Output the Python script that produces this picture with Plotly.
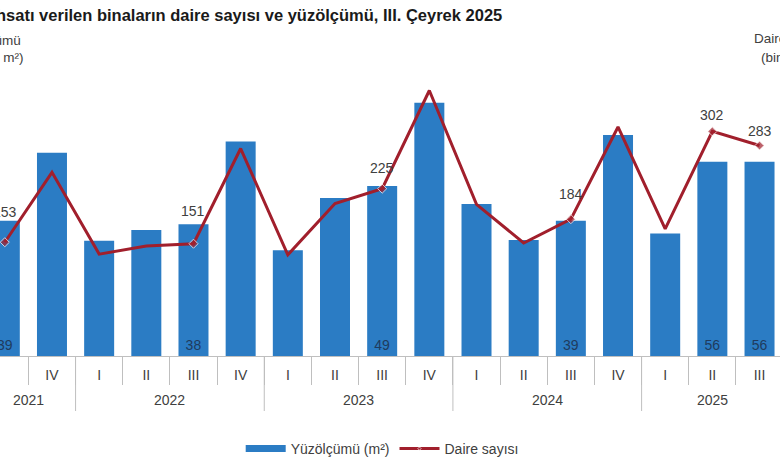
import plotly.graph_objects as go

# veriler (çeyrekler, 2021 III - 2025 III)
years = ["2021"] * 2 + ["2022"] * 4 + ["2023"] * 4 + ["2024"] * 4 + ["2025"] * 3
quarters = ["III", "IV", "I", "II", "III", "IV", "I", "II", "III", "IV",
            "I", "II", "III", "IV", "I", "II", "III"]
area_mln_m2 = [39, 58.6, 33.2, 36.3, 38, 61.8, 30.5, 45.5, 49, 73,
               43.8, 33.4, 39, 63.7, 35.3, 56, 56]
dwellings_thousand = [153, 247, 137, 148, 151, 279, 136, 205, 225, 357,
                      204, 152, 184, 308, 171, 302, 283]
area_labels = ["39", "", "", "", "38", "", "", "", "49", "", "", "", "39", "", "", "56", "56"]
dwelling_labels = ["153", "", "", "", "151", "", "", "", "225", "", "", "", "184", "", "", "302", "283"]

W, H = 780, 470
BAR_BLUE = "#2b7cc4"
LINE_RED = "#a11f2c"
TXT = "#404040"
GRID = "#bfbfbf"
FONT = "Arial, Liberation Sans, sans-serif"
BASE_Y = 356  # eksen çizgisi (piksel)

# etiket kaydırmaları (piksel)
label_shift = {0: 30, 4: 33, 8: 21, 12: 25, 15: 16, 16: 15}


def px(x):
    return x / W


def py(y):
    return 1 - y / H


idx = list(range(len(quarters)))

fig = go.Figure()

fig.add_trace(
    go.Bar(
        x=idx,
        y=area_mln_m2,
        marker=dict(color=BAR_BLUE, line=dict(width=0)),
        width=0.636,
        text=area_labels,
        textposition="inside",
        insidetextanchor="start",
        textangle=0,
        textfont=dict(family=FONT, size=14, color="#1f3b5e"),
        showlegend=False,
        hoverinfo="skip",
    )
)

# lejant için çubuk işareti (geniş dikdörtgen görünümü)
fig.add_trace(
    go.Scatter(
        x=[None],
        y=[None],
        mode="lines",
        line=dict(color=BAR_BLUE, width=7),
        name="Yüzölçümü (m²)",
        legendrank=1,
    )
)

fig.add_trace(
    go.Scatter(
        x=idx,
        y=dwellings_thousand,
        yaxis="y2",
        mode="lines+markers",
        line=dict(color=LINE_RED, width=3),
        marker=dict(symbol="diamond", color=LINE_RED,
                    size=[7 if t else 0 for t in dwelling_labels]),
        name="Daire sayısı",
        legendrank=2,
        hoverinfo="skip",
    )
)

annotations = []
for i, t in enumerate(dwelling_labels):
    if t:
        annotations.append(dict(
            x=i, y=dwellings_thousand[i], xref="x", yref="y2",
            text=t, showarrow=False, yshift=label_shift.get(i, 15),
            font=dict(family=FONT, size=14, color=TXT),
        ))

# yıl etiketleri ve ayraçları
year_names = sorted(set(years))
shapes = []
for yname in year_names:
    pos = [i for i, v in enumerate(years) if v == yname]
    annotations.append(dict(
        x=sum(pos) / len(pos), y=py(400), xref="x", yref="paper",
        text=yname, showarrow=False, yanchor="middle",
        font=dict(family=FONT, size=14, color=TXT),
    ))
    if pos[0] > 0:
        shapes.append(dict(
            type="line", xref="x", yref="paper",
            x0=pos[0] - 0.5, x1=pos[0] - 0.5, y0=py(BASE_Y), y1=py(411),
            line=dict(color=GRID, width=1),
        ))

annotations += [
    dict(x=px(504), y=py(15), xref="paper", yref="paper", xanchor="right", yanchor="middle",
         text="<b>Yapı ruhsatı verilen binaların daire sayısı ve yüzölçümü, III. Çeyrek 2025</b>",
         showarrow=False, font=dict(family=FONT, size=16.5, color="#1a1a1a")),
    dict(x=px(23), y=py(40), xref="paper", yref="paper", xanchor="right", yanchor="middle",
         text="Yüzölçümü", showarrow=False, font=dict(family=FONT, size=13.5, color=TXT)),
    dict(x=px(26), y=py(58), xref="paper", yref="paper", xanchor="right", yanchor="middle",
         text="(milyon m²)", showarrow=False, font=dict(family=FONT, size=13.5, color=TXT)),
    dict(x=px(752), y=py(38), xref="paper", yref="paper", xanchor="left", yanchor="middle",
         text="Daire sayısı", showarrow=False, font=dict(family=FONT, size=13.5, color=TXT)),
    dict(x=px(759), y=py(57), xref="paper", yref="paper", xanchor="left", yanchor="middle",
         text="(bin)", showarrow=False, font=dict(family=FONT, size=13.5, color=TXT)),
]

fig.update_layout(
    width=W,
    height=H,
    margin=dict(l=0, r=0, t=0, b=0),
    paper_bgcolor="white",
    plot_bgcolor="white",
    font=dict(family=FONT, size=14, color=TXT),
    annotations=annotations,
    shapes=shapes,
    legend=dict(
        orientation="h",
        x=0.49, xanchor="center",
        y=py(449), yanchor="middle",
        font=dict(family=FONT, size=14, color=TXT),
        itemwidth=40,
    ),
    xaxis=dict(
        range=[-0.102, 16.434],
        automargin=False,
        showline=True,
        linecolor=GRID,
        linewidth=1,
        tickmode="array",
        tickvals=idx,
        ticktext=quarters,
        ticks="",
        ticklabelstandoff=6,
        minor=dict(
            tickmode="array",
            tickvals=[i + 0.5 for i in idx],
            ticks="outside",
            ticklen=28,
            tickcolor=GRID,
            tickwidth=1,
            showgrid=False,
        ),
        showgrid=False,
        zeroline=False,
        tickfont=dict(family=FONT, size=14, color=TXT),
    ),
    yaxis=dict(
        domain=[py(BASE_Y), py(78.4)],
        range=[0, 80],
        automargin=False,
        showgrid=False,
        zeroline=False,
        showticklabels=False,
        showline=False,
    ),
    yaxis2=dict(
        overlaying="y",
        side="right",
        range=[0, 373.3],
        automargin=False,
        showgrid=False,
        zeroline=False,
        showticklabels=False,
        showline=False,
    ),
)

# sayfa gövdesinin varsayılan 8px kenar boşluğunu kaldır
fig.write_html(
    "out.html",
    config={"displayModeBar": False},
    post_script="document.body.style.margin = '0px';",
)
